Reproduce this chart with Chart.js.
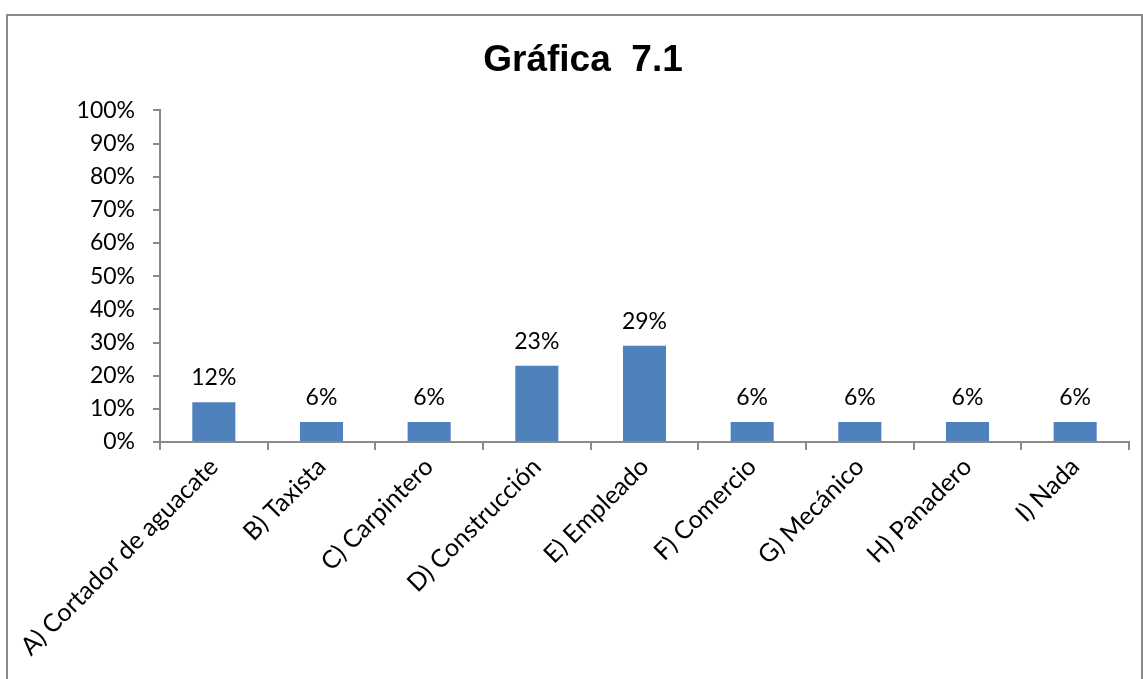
<!DOCTYPE html>
<html>
<head>
<meta charset="utf-8">
<script src="https://cdn.jsdelivr.net/npm/chart.js@4"></script>
<style>
  body { margin: 0; background: #fff; }
  #wrap { position: relative; width: 1143px; height: 679px; overflow: hidden; }
  #frame { position: absolute; left: 6px; top: 14px; width: 1133px; height: 720px; border: 2px solid #8a8a8a; }
  canvas { position: absolute; left: 0; top: 0; }
</style>
</head>
<body>
<div id="wrap">
  <div id="frame"></div>
  <canvas id="chart" width="1143" height="679"></canvas>
</div>
<script>
const labels = [
  "A) Cortador de aguacate",
  "B) Taxista",
  "C) Carpintero",
  "D) Construcción",
  "E) Empleado",
  "F) Comercio",
  "G) Mecánico",
  "H) Panadero",
  "I) Nada",
];
const values = [12, 6, 6, 23, 29, 6, 6, 6, 6];

const axisColor = "#8a8a8a";

// values printed above the bars
const barLabels = {
  id: "barLabels",
  afterDatasetsDraw(chart) {
    const ctx = chart.ctx;
    const meta = chart.getDatasetMeta(0);
    ctx.save();
    ctx.font = "23px Lato";
    ctx.fillStyle = "#000";
    ctx.textAlign = "center";
    ctx.textBaseline = "alphabetic";
    meta.data.forEach((bar, i) => {
      ctx.fillText(values[i] + "%", bar.x, bar.y - 17);
    });
    ctx.restore();
  },
};

new Chart(document.getElementById("chart"), {
  type: "bar",
  data: {
    labels: labels,
    datasets: [
      {
        data: values,
        backgroundColor: "#4f81bd",
        barPercentage: 0.4,
        categoryPercentage: 1,
      },
    ],
  },
  options: {
    responsive: false,
    animation: false,
    layout: { padding: { left: 37, right: 14, top: 0, bottom: 0 } },
    plugins: {
      legend: { display: false },
      tooltip: { enabled: false },
      title: {
        display: true,
        text: "Gráfica  7.1",
        color: "#000",
        font: { family: "Liberation Sans", size: 37, weight: "bold" },
        padding: { top: 39, bottom: 27 },
      },
    },
    scales: {
      x: {
        grid: {
          drawOnChartArea: false,
          color: axisColor,
          lineWidth: 2,
          tickLength: 8,
        },
        border: { color: axisColor, width: 2 },
        ticks: {
          color: "#000",
          font: { family: "Lato", size: 25 },
          minRotation: 45,
          maxRotation: 45,
          padding: 2,
        },
        afterFit(scale) {
          scale.height = 237;
        },
      },
      y: {
        min: 0,
        max: 100,
        grid: {
          drawOnChartArea: false,
          color: axisColor,
          lineWidth: 2,
          tickLength: 7,
        },
        border: { color: axisColor, width: 2 },
        ticks: {
          stepSize: 10,
          color: "#000",
          font: { family: "Lato", size: 23 },
          padding: 18,
          callback: (v) => v + "%",
        },
        afterFit(scale) {
          scale.width = 123;
        },
      },
    },
  },
  plugins: [barLabels],
});
</script>
</body>
</html>
